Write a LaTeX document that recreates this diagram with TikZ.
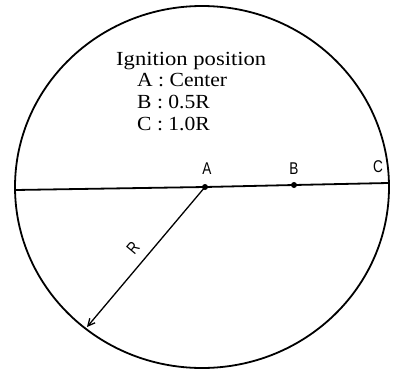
\documentclass[tikz,border=0pt]{standalone}
\usepackage{fontspec}
\setmainfont{Liberation Serif}
\setsansfont{Liberation Sans}
\usetikzlibrary{arrows.meta}
\begin{document}
\begin{tikzpicture}[x=1pt,y=-1pt,
  outline/.style={line width=1.8pt},
  legend/.style={anchor=base west,inner sep=0pt,font=\fontsize{20}{22}\selectfont},
  ptlabel/.style={anchor=base,inner sep=0pt,font=\sffamily\fontsize{17}{18}\selectfont},
  dotnode/.style={circle,fill=black,inner sep=0pt,minimum size=6pt}]
\useasboundingbox (0,0) rectangle (398,370);
\draw[outline] (202,187) ellipse [x radius=187, y radius=181];
\coordinate (L) at (15,190);
\coordinate (C) at (388,183);
\node[dotnode] (A) at (205,187) {};
\node[dotnode] (B) at (294,185) {};
\coordinate (Rend) at (87,327);
\draw[outline] (L) -- (A.center) -- (B.center) -- (C);
\draw[line width=1.3pt,-{Straight Barb[length=7pt,width=7pt]}] (A.center) -- (Rend);
\node[ptlabel] (la) at (207,174) {\scalebox{0.8}[1]{A}};
\node[ptlabel] (lb) at (294,174) {\scalebox{0.8}[1]{B}};
\node[ptlabel] (lc) at (378,172) {\scalebox{0.8}[1]{C}};
\node[ptlabel,anchor=center,rotate=50] (lr) at (133,248) {\scalebox{0.8}[1]{R}};
\node[legend] (t0) at (116,65) {\scalebox{1.13}[1]{Ignition position}};
\node[legend] (t1) at (137,86) {\scalebox{1.08}[1]{A : Center}};
\node[legend] (t2) at (137,108) {\scalebox{1.08}[1]{B : 0.5R}};
\node[legend] (t3) at (137,130) {\scalebox{1.08}[1]{C : 1.0R}};
\end{tikzpicture}
\end{document}
